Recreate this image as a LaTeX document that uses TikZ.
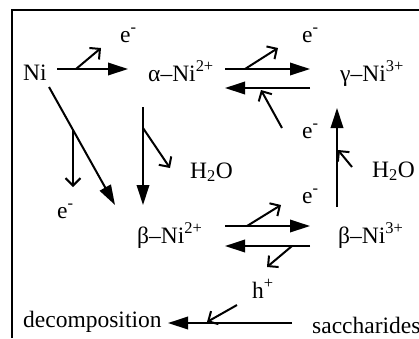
\documentclass[tikz,border=0pt]{standalone}
\usepackage{fontspec}
\setmainfont{Liberation Serif}
\usetikzlibrary{arrows.meta}
\begin{document}
\begin{tikzpicture}[x=1pt,y=-1pt,
  lbl/.style={inner sep=0pt, font=\fontsize{23.5}{28}\selectfont, anchor=base west},
  mainarrow/.style={line width=2pt, -{Triangle[length=20pt,width=12.5pt]}},
  hookarrow/.style={line width=2pt, -{Straight Barb[length=7.5pt,width=15pt]}},
  framebox/.style={line width=2pt}
]
\useasboundingbox (0,0) rectangle (419,338);
\draw[framebox] (12,338) -- (12,10) -- (419,10);

% species and labels
\node[lbl] (ni) at (23,80) {Ni};
\node[lbl] (a2) at (148,81) {α–Ni\textsuperscript{2+}};
\node[lbl] (g3) at (340,81) {γ–Ni\textsuperscript{3+}};
\node[lbl] (b2) at (137,243) {β–Ni\textsuperscript{2+}};
\node[lbl] (b3) at (338,243) {β–Ni\textsuperscript{3+}};
\node[lbl] (w1) at (190,178) {H\textsubscript{2}O};
\node[lbl] (w2) at (372,177) {H\textsubscript{2}O};
\node[lbl] (e1) at (120,42) {e\textsuperscript{-}};
\node[lbl] (e2) at (302,42) {e\textsuperscript{-}};
\node[lbl] (e3) at (302,138) {e\textsuperscript{-}};
\node[lbl] (e4) at (57,218) {e\textsuperscript{-}};
\node[lbl] (e5) at (302,203) {e\textsuperscript{-}};
\node[lbl] (hp) at (252,298) {h\textsuperscript{+}};
\node[lbl] (dec) at (23,327) {decomposition};
\node[lbl] (sac) at (312,333) {saccharides};

% arrow end points
\coordinate (niA) at (57,69);   \coordinate (aIn) at (128,69);
\coordinate (h1s) at (76,69);   \coordinate (h1e) at (101,48);
\coordinate (aOut) at (225,69); \coordinate (gIn) at (310,69);
\coordinate (h2s) at (245,69);  \coordinate (h2e) at (278,48);
\coordinate (gOut) at (310,88); \coordinate (aBk) at (225,88);
\coordinate (h3s) at (282,128); \coordinate (h3e) at (261,90);
\coordinate (bUp) at (337,207); \coordinate (gDn) at (337,108);
\coordinate (h4s) at (352,167); \coordinate (h4e) at (338,150);
\coordinate (aDn) at (143,107); \coordinate (bTop) at (143,205);
\coordinate (h5s) at (143,128); \coordinate (h5e) at (170,168);
\coordinate (niD) at (49,87);   \coordinate (bDiag) at (115,205);
\coordinate (h6s) at (73,130);  \coordinate (h6e) at (73,187);
\coordinate (bOut) at (225,226); \coordinate (b3In) at (310,226);
\coordinate (h7s) at (247,226); \coordinate (h7e) at (281,205);
\coordinate (b3Out) at (310,246); \coordinate (bBk) at (225,246);
\coordinate (h8s) at (292,246); \coordinate (h8e) at (267,267);
\coordinate (sOut) at (292,323); \coordinate (dIn) at (168,323);
\coordinate (h9s) at (237,305); \coordinate (h9e) at (207,322);

% main arrows
\draw[mainarrow] (niA) -- (aIn);
\draw[mainarrow] (aOut) -- (gIn);
\draw[mainarrow] (gOut) -- (aBk);
\draw[mainarrow] (bUp) -- (gDn);
\draw[mainarrow] (aDn) -- (bTop);
\draw[mainarrow] (niD) -- (bDiag);
\draw[mainarrow] (bOut) -- (b3In);
\draw[mainarrow] (b3Out) -- (bBk);
\draw[mainarrow] (sOut) -- (dIn);

% side hooks
\draw[hookarrow] (h1s) -- (h1e);
\draw[hookarrow] (h2s) -- (h2e);
\draw[hookarrow] (h3s) -- (h3e);
\draw[hookarrow] (h4s) -- (h4e);
\draw[hookarrow] (h5s) -- (h5e);
\draw[hookarrow] (h6s) -- (h6e);
\draw[hookarrow] (h7s) -- (h7e);
\draw[hookarrow] (h8s) -- (h8e);
\draw[hookarrow] (h9s) -- (h9e);
\end{tikzpicture}
\end{document}
